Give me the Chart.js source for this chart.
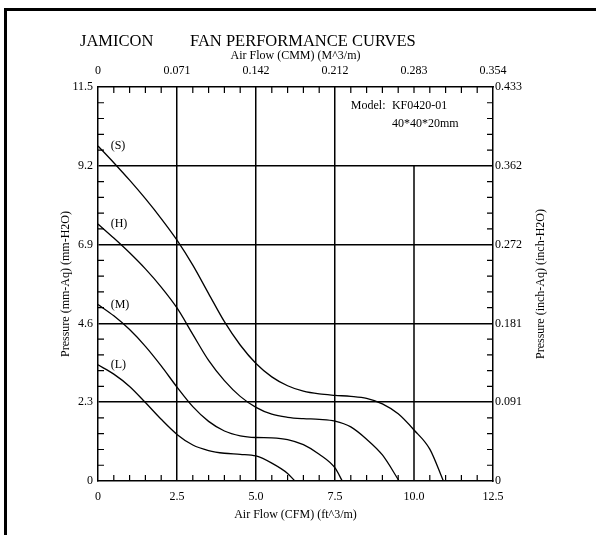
<!DOCTYPE html>
<html>
<head>
    <title>Fan Performance Curves</title>
    <script src="https://cdn.jsdelivr.net/npm/chart.js"></script>
    <style>
        body { margin: 0; background: #fff; }
    </style>
</head>
<body>
    <canvas id="myChart" width="596" height="535"></canvas>

    <script>
        // axis ticks / labels
        var cfmTicks = [0, 2.5, 5, 7.5, 10, 12.5];
        var cfmLabels = ['0', '2.5', '5.0', '7.5', '10.0', '12.5'];
        var cmmLabels = ['0', '0.071', '0.142', '0.212', '0.283', '0.354'];
        var mmTicks = [0, 2.3, 4.6, 6.9, 9.2, 11.5];
        var mmLabels = ['0', '2.3', '4.6', '6.9', '9.2', '11.5'];
        var inchLabels = ['0', '0.091', '0.181', '0.272', '0.362', '0.433'];

        // curves (CFM, mm-Aq)
        var sFlow = [0, 0.5, 1.0, 1.5, 2.0, 2.5, 3.0, 3.5, 4.0, 4.5, 5.0, 5.5, 6.0, 6.5, 7.0, 7.5, 8.0, 8.5, 9.0, 9.5, 10.0, 10.5, 10.93];
        var sPres = [9.78, 9.29, 8.78, 8.24, 7.66, 7.03, 6.30, 5.47, 4.65, 3.97, 3.43, 3.04, 2.78, 2.62, 2.54, 2.50, 2.47, 2.41, 2.25, 1.96, 1.49, 0.93, 0];
        var hFlow = [0, 0.5, 1.0, 1.5, 2.0, 2.5, 3.0, 3.5, 4.0, 4.5, 5.0, 5.5, 6.0, 6.5, 7.0, 7.5, 8.0, 8.5, 9.0, 9.53];
        var hPres = [7.50, 7.09, 6.66, 6.19, 5.66, 5.05, 4.28, 3.52, 2.93, 2.47, 2.15, 1.95, 1.86, 1.82, 1.80, 1.75, 1.58, 1.22, 0.76, 0];
        var mFlow = [0, 0.5, 1.0, 1.5, 2.0, 2.5, 3.0, 3.5, 4.0, 4.5, 5.0, 5.5, 6.0, 6.5, 7.0, 7.5, 7.73];
        var mPres = [5.15, 4.82, 4.42, 3.93, 3.36, 2.74, 2.17, 1.74, 1.46, 1.32, 1.27, 1.26, 1.21, 1.06, 0.78, 0.38, 0];
        var lFlow = [0, 0.5, 1.0, 1.5, 2.0, 2.5, 3.0, 3.5, 4.0, 4.5, 5.0, 5.5, 6.0, 6.23];
        var lPres = [3.39, 3.12, 2.76, 2.29, 1.80, 1.36, 1.05, 0.89, 0.81, 0.78, 0.73, 0.52, 0.22, 0];

        var seriesNames = ['(S)', '(H)', '(M)', '(L)'];
        var flows = [sFlow, hFlow, mFlow, lFlow];
        var pressures = [sPres, hPres, mPres, lPres];

        var serif = '"Liberation Serif", "Times New Roman", serif';

        function toPoints(xs, ys) {
            return xs.map(function (v, i) { return { x: v, y: ys[i] }; });
        }

        var datasets = seriesNames.map(function (name, i) {
            return {
                label: name,
                data: toPoints(flows[i], pressures[i]),
                borderColor: '#000',
                borderWidth: 1.3,
                pointRadius: 0,
                showLine: true,
                fill: false,
                cubicInterpolationMode: 'monotone'
            };
        });

        function fixTicks(values) {
            return function (scale) {
                scale.ticks = values.map(function (v) { return { value: v }; });
            };
        }

        function majorColor(values) {
            return function (c) {
                if (!c.tick) return 'transparent';
                return values.indexOf(c.tick.value) >= 0 ? '#000' : 'transparent';
            };
        }

        var tickFont = { family: serif, size: 12 };
        var titleFont = { family: serif, size: 12 };

        // frame, titles, minor ticks and notes
        var decor = {
            id: 'decor',
            afterDraw: function (chart) {
                var ctx = chart.ctx;
                var xs = chart.scales.x, ys = chart.scales.y;
                var a = chart.chartArea;
                ctx.save();
                ctx.fillStyle = '#000';
                ctx.fillRect(4, 8, 3, 527);
                ctx.fillRect(4, 8, 592, 3);

                ctx.textBaseline = 'middle';
                ctx.textAlign = 'left';
                ctx.font = '16.5px ' + serif;
                ctx.fillText('JAMICON', 80, 42);
                ctx.fillText('FAN PERFORMANCE CURVES', 190, 42);

                ctx.strokeStyle = '#000';
                ctx.lineWidth = 1.5;
                ctx.beginPath();
                var x10 = xs.getPixelForValue(10);
                ctx.moveTo(x10, ys.getPixelForValue(9.2));
                ctx.lineTo(x10, a.bottom);
                ctx.stroke();

                ctx.lineWidth = 1.2;
                ctx.beginPath();
                for (var i = 1; i < 25; i++) {
                    if (i % 5 === 0 && i !== 20) continue;
                    var px = xs.getPixelForValue(i * 0.5);
                    ctx.moveTo(px, a.top); ctx.lineTo(px, a.top + 6);
                    if (i !== 20) { ctx.moveTo(px, a.bottom); ctx.lineTo(px, a.bottom - 6); }
                }
                for (var j = 1; j < 25; j++) {
                    if (j % 5 === 0) continue;
                    var py = ys.getPixelForValue(j * 0.46);
                    ctx.moveTo(a.left, py); ctx.lineTo(a.left + 6, py);
                    ctx.moveTo(a.right, py); ctx.lineTo(a.right - 6, py);
                }
                ctx.stroke();

                ctx.font = '12px ' + serif;
                seriesNames.forEach(function (name, k) {
                    ctx.fillText(name, xs.getPixelForValue(0.4), ys.getPixelForValue(pressures[k][0]));
                });
                ctx.fillText('Model:', xs.getPixelForValue(8.0), ys.getPixelForValue(10.95));
                ctx.fillText('KF0420-01', xs.getPixelForValue(9.3), ys.getPixelForValue(10.95));
                ctx.fillText('40*40*20mm', xs.getPixelForValue(9.3), ys.getPixelForValue(10.42));

                // right axis title reads bottom-to-top like the left one
                ctx.translate(541, (a.top + a.bottom) / 2);
                ctx.rotate(-Math.PI / 2);
                ctx.textAlign = 'center';
                ctx.fillText('Pressure (inch-Aq) (inch-H2O)', 0, 0);
                ctx.restore();
            }
        };

        var ctx = document.getElementById('myChart').getContext('2d');
        var myChart = new Chart(ctx, {
            type: 'scatter',
            data: { datasets: datasets },
            options: {
                responsive: false,
                animation: false,
                layout: { padding: 0 },
                plugins: {
                    legend: { display: false },
                    tooltip: { enabled: false }
                },
                scales: {
                    x: {
                        type: 'linear', position: 'bottom', min: 0, max: 12.5,
                        afterBuildTicks: fixTicks(cfmTicks),
                        afterFit: function (s) { s.height = 54; },
                        ticks: {
                            color: '#000', font: tickFont, padding: 9, maxRotation: 0, autoSkip: false,
                            callback: function (v, i) { return cfmLabels[i]; }
                        },
                        grid: { color: majorColor([2.5, 5, 7.5]), lineWidth: 1.5, drawTicks: false },
                        border: { color: '#000', width: 1.5 },
                        title: { display: true, text: 'Air Flow (CFM) (ft^3/m)', color: '#000', font: titleFont, padding: { bottom: 12.8 } }
                    },
                    x2: {
                        type: 'linear', position: 'top', min: 0, max: 12.5,
                        afterBuildTicks: fixTicks(cfmTicks),
                        afterFit: function (s) { s.height = 87; },
                        ticks: {
                            color: '#000', font: tickFont, padding: 9, maxRotation: 0, autoSkip: false,
                            callback: function (v, i) { return cmmLabels[i]; }
                        },
                        grid: { display: false, drawTicks: false },
                        border: { color: '#000', width: 1.5 },
                        title: { display: true, text: 'Air Flow (CMM) (M^3/m)', color: '#000', font: titleFont, padding: { top: 48.8 } }
                    },
                    y: {
                        type: 'linear', position: 'left', min: 0, max: 11.5,
                        afterBuildTicks: fixTicks(mmTicks),
                        afterFit: function (s) { s.width = 98; },
                        ticks: {
                            color: '#000', font: tickFont, padding: 5, autoSkip: false,
                            callback: function (v, i) { return mmLabels[i]; }
                        },
                        grid: { color: majorColor([2.3, 4.6, 6.9, 9.2]), lineWidth: 1.5, drawTicks: false },
                        border: { color: '#000', width: 1.5 },
                        title: { display: true, text: 'Pressure (mm-Aq) (mm-H2O)', color: '#000', font: titleFont, padding: { top: 58.8 } }
                    },
                    y2: {
                        type: 'linear', position: 'right', min: 0, max: 11.5,
                        afterBuildTicks: fixTicks(mmTicks),
                        afterFit: function (s) { s.width = 103; },
                        ticks: {
                            color: '#000', font: tickFont, padding: 2, autoSkip: false,
                            callback: function (v, i) { return inchLabels[i]; }
                        },
                        grid: { display: false, drawTicks: false },
                        border: { color: '#000', width: 1.5 }
                    }
                }
            },
            plugins: [decor]
        });
    </script>
</body>
</html>
